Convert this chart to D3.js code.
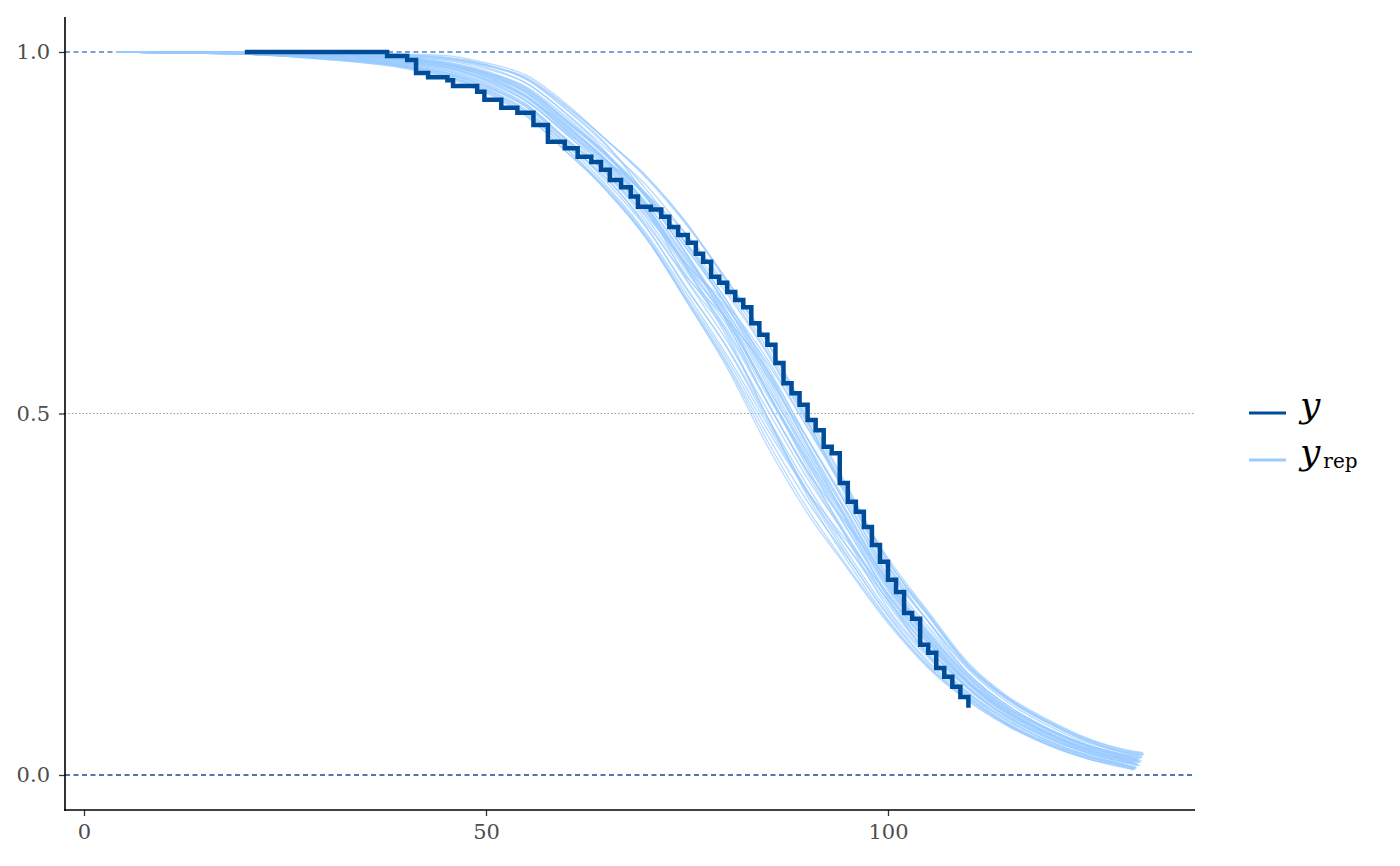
<!DOCTYPE html>
<html>
<head>
<meta charset="utf-8">
<script src="https://cdn.jsdelivr.net/npm/d3@7/dist/d3.min.js"></script>
<style>
  html, body { margin: 0; padding: 0; background: #fff; }
  svg { display: block; }
</style>
</head>
<body>
<svg id="chart" width="1400" height="866"></svg>
<script>
// ---------------- data ----------------
const xTicks = [0, 50, 100];
const yTicks = [0, 0.5, 1];
const yTickLabels = ["0.0", "0.5", "1.0"];

// observed Kaplan-Meier curve (time, survival)
const obsTime = [20, 37.7, 40.2, 41.3, 42.8, 45.2, 45.9, 48.9, 49.8, 51.9,
  53.9, 55.9, 57.7, 59.8, 61.4, 63.1, 64.3, 65.4, 66.8, 68.0,
  68.9, 70.5, 71.8, 72.8, 73.9, 75.1, 76.1,
  77, 78, 79, 80, 81, 82, 83, 84, 85, 86,
  87, 88, 89, 90, 91, 92, 93, 94, 95, 96,
  97, 98, 99, 100, 101, 102, 103, 104, 105, 106,
  107, 108, 109, 110];
const obsSurv = [1.0, 0.9945, 0.989, 0.971, 0.965, 0.961, 0.953, 0.945, 0.934, 0.923,
  0.916, 0.899, 0.876, 0.867, 0.855, 0.848, 0.837, 0.823, 0.813, 0.800,
  0.786, 0.782, 0.772, 0.758, 0.747, 0.736, 0.721,
  0.710, 0.689, 0.681, 0.668, 0.657, 0.647, 0.625, 0.609, 0.595, 0.570,
  0.542, 0.528, 0.512, 0.491, 0.477, 0.454, 0.445, 0.404, 0.378, 0.364,
  0.343, 0.318, 0.295, 0.270, 0.253, 0.224, 0.216, 0.180, 0.169, 0.148,
  0.136, 0.122, 0.108, 0.093];

// replicated curves, read at these times
const repTimes = [4, 20, 30, 40, 45, 50, 55, 60, 65, 70, 75, 80, 85, 90, 95, 100, 105, 110, 115, 120, 125, 130];
const repSurv = [
  [1, 1.0, 1.0, .997, .995, .985, .968, .928, .878, .827, .763, .680, .598, .495, .396, .296, .224, .152, .106, .074, .049, .033],
  [1, .997, .990, .977, .964, .943, .911, .862, .810, .743, .657, .570, .470, .378, .300, .222, .157, .110, .071, .045, .025, .011],
  [1, .998, .995, .988, .981, .966, .938, .893, .847, .783, .706, .630, .535, .445, .352, .260, .190, .130, .088, .056, .036, .022],
  [1, .999, .997, .992, .986, .974, .950, .905, .858, .798, .720, .625, .515, .420, .330, .240, .170, .118, .078, .050, .030, .016],
  [1, .998, .992, .982, .972, .955, .927, .880, .835, .777, .706, .650, .575, .480, .385, .290, .220, .150, .105, .072, .047, .031],
  [1, 1.0, .999, .996, .993, .983, .962, .920, .870, .809, .733, .648, .550, .450, .360, .265, .195, .135, .092, .062, .040, .025],
  [1, .997, .991, .979, .967, .948, .917, .866, .812, .745, .660, .575, .478, .392, .322, .250, .182, .127, .085, .058, .034, .020],
  [1, 1.0, .998, .995, .992, .982, .965, .925, .878, .825, .760, .684, .600, .490, .390, .290, .212, .140, .095, .063, .041, .027],
  [1, .998, .994, .985, .978, .961, .933, .886, .840, .777, .696, .622, .525, .432, .340, .250, .180, .125, .083, .053, .032, .018],
  [1, .998, .996, .989, .983, .969, .943, .897, .850, .785, .699, .605, .495, .385, .295, .215, .150, .103, .068, .041, .022, .009],
  [1, .998, .993, .983, .974, .956, .928, .879, .830, .765, .683, .600, .505, .410, .328, .247, .175, .120, .080, .052, .030, .016],
  [1, .999, .997, .993, .988, .977, .957, .915, .866, .815, .746, .670, .585, .488, .392, .300, .226, .155, .108, .076, .050, .034],
  [1, .997, .991, .980, .969, .950, .920, .872, .824, .761, .688, .630, .560, .465, .370, .270, .185, .120, .080, .050, .030, .016],
  [1, .998, .995, .988, .982, .967, .940, .895, .850, .791, .713, .640, .545, .445, .355, .263, .193, .133, .090, .060, .038, .024],
  [1, .999, .996, .990, .984, .971, .946, .902, .857, .797, .720, .635, .530, .435, .345, .255, .185, .127, .086, .056, .034, .020],
  [1, .997, .990, .978, .966, .945, .913, .862, .808, .741, .654, .563, .455, .362, .285, .210, .148, .102, .067, .041, .022, .009],
  [1, 1.0, .998, .994, .990, .979, .957, .914, .860, .785, .685, .612, .515, .420, .345, .270, .200, .138, .095, .064, .041, .027],
  [1, .998, .994, .984, .976, .960, .932, .888, .850, .803, .747, .675, .590, .490, .380, .275, .190, .128, .087, .057, .035, .021],
  [1, .997, .992, .981, .971, .952, .924, .874, .826, .757, .671, .592, .495, .400, .315, .236, .167, .114, .076, .047, .027, .013],
  [1, .999, .996, .991, .985, .972, .948, .905, .860, .803, .733, .655, .565, .465, .370, .275, .205, .140, .095, .064, .041, .026],
  [1, 1.0, 1.0, .987, .979, .963, .936, .890, .843, .779, .701, .628, .530, .437, .350, .258, .190, .130, .090, .058, .037, .023],
  [1, .998, .992, .981, .971, .953, .926, .878, .832, .773, .706, .645, .570, .480, .390, .295, .222, .152, .106, .074, .048, .032],
  [1, .999, .996, .989, .983, .970, .944, .899, .851, .787, .701, .610, .495, .390, .302, .220, .154, .107, .070, .044, .024, .011],
  [1, .998, .995, .987, .980, .965, .939, .892, .845, .785, .710, .635, .540, .440, .350, .260, .188, .128, .087, .058, .035, .021],
  [1, .999, .996, .989, .983, .969, .947, .904, .855, .799, .727, .650, .558, .458, .363, .268, .197, .136, .092, .062, .039, .024],
  [1, .997, .991, .979, .968, .948, .918, .871, .815, .748, .665, .580, .485, .390, .315, .242, .176, .122, .083, .054, .033, .018],
  [1, 1.0, .999, .995, .992, .982, .963, .922, .872, .800, .718, .630, .530, .425, .325, .230, .165, .113, .074, .047, .026, .012],
  [1, .998, .993, .984, .975, .958, .932, .887, .832, .770, .690, .616, .516, .416, .326, .242, .175, .120, .080, .052, .031, .017],
  [1, .998, .994, .985, .978, .962, .938, .897, .850, .800, .735, .665, .582, .485, .385, .286, .213, .146, .100, .068, .044, .029],
  [1, .998, .994, .986, .979, .963, .938, .891, .839, .781, .703, .627, .530, .430, .338, .250, .184, .126, .085, .056, .033, .019],
  [1, .999, .997, .991, .985, .972, .952, .910, .858, .803, .733, .655, .560, .455, .348, .245, .165, .108, .069, .042, .022, .009],
  [1, .997, .992, .981, .970, .952, .924, .877, .820, .756, .673, .590, .490, .393, .307, .226, .162, .112, .074, .047, .027, .013],
  [1, .999, .997, .993, .990, .981, .963, .925, .878, .828, .762, .684, .598, .500, .398, .296, .220, .150, .104, .072, .046, .030],
  [1, .998, .995, .988, .982, .967, .944, .900, .848, .790, .715, .640, .552, .465, .375, .282, .212, .148, .103, .071, .046, .030],
  [1, .998, .991, .979, .967, .946, .915, .867, .808, .742, .655, .567, .462, .368, .288, .213, .151, .105, .069, .043, .024, .011],
  [1, .999, .996, .990, .984, .971, .950, .907, .857, .801, .728, .647, .555, .455, .360, .265, .196, .135, .092, .062, .039, .024]
];
const repEndTime = [131.4, 130.8, 131.6, 130.9, 131.8, 131.2, 130.6, 131.5, 131.0, 130.5,
  131.3, 131.7, 131.1, 130.8, 131.4, 130.7, 131.6, 131.2, 130.9, 131.5, 131.0, 131.8, 130.6, 131.3,
  131.1, 130.7, 130.9, 131.2, 131.6, 131.0, 130.5, 130.8, 131.7, 131.5, 130.6, 131.3];
const repEndSurv = [.030, .008, .019, .013, .028, .022, .017, .024, .015, .007,
  .013, .031, .014, .021, .017, .008, .024, .018, .010, .023, .020, .030, .009, .018,
  .021, .015, .010, .014, .026, .016, .007, .011, .028, .027, .009, .021];

const legendLabels = ["y", "yrep"];

// ---------------- chart ----------------
const svg = d3.select("#chart");
const x = d3.scaleLinear().domain([0, 100]).range([84, 888]);
const y = d3.scaleLinear().domain([0, 1]).range([775, 52]);
const padL = 65, padR = 1195, padT = 17, padB = 810;

const fontTick = "'DejaVu Serif', serif";

// reference lines
svg.append("line").attr("x1", padL).attr("x2", padR)
  .attr("y1", y(1)).attr("y2", y(1))
  .attr("stroke", "#4a84c9").attr("stroke-width", 1.3).attr("stroke-dasharray", "5,3.5");
svg.append("line").attr("x1", padL).attr("x2", padR)
  .attr("y1", y(0.5)).attr("y2", y(0.5))
  .attr("stroke", "#9a9a9a").attr("stroke-width", 1).attr("stroke-dasharray", "1.5,2");
svg.append("line").attr("x1", padL).attr("x2", padR)
  .attr("y1", y(0)).attr("y2", y(0))
  .attr("stroke", "#104d94").attr("stroke-width", 1.3).attr("stroke-dasharray", "5,3.5");

// replicated curves
const repLine = d3.line().x(d => x(d[0])).y(d => y(d[1])).curve(d3.curveMonotoneX);
repSurv.forEach((vals, i) => {
  const pts = repTimes.map((t, j) => [t, vals[j]]);
  pts.push([repEndTime[i], repEndSurv[i]]);
  svg.append("path").datum(pts)
    .attr("d", repLine)
    .attr("fill", "none")
    .attr("stroke", "#99cbff")
    .attr("stroke-opacity", 0.7)
    .attr("stroke-width", 1.3);
});

// observed curve
const obsLine = d3.line().x(d => x(d[0])).y(d => y(d[1])).curve(d3.curveStepAfter);
svg.append("path").datum(obsTime.map((t, i) => [t, obsSurv[i]]))
  .attr("d", obsLine)
  .attr("fill", "none")
  .attr("stroke", "#004c99")
  .attr("stroke-width", 4.5);

// axes
const xAxis = d3.axisBottom(x).tickValues(xTicks).tickSize(6).tickPadding(8).tickFormat(d3.format("d"));
const gx = svg.append("g").attr("transform", `translate(0,${padB})`).call(xAxis);
gx.select(".domain").remove();
gx.selectAll(".tick line").attr("stroke", "#333").attr("stroke-width", 1.3);
gx.selectAll(".tick text").attr("fill", "#4d4d4d").attr("font-family", fontTick).attr("font-size", 21);

const yAxis = d3.axisLeft(y).tickValues(yTicks).tickSize(6).tickPadding(9)
  .tickFormat((d, i) => yTickLabels[i]);
const gy = svg.append("g").attr("transform", `translate(${padL},0)`).call(yAxis);
gy.select(".domain").remove();
gy.selectAll(".tick line").attr("stroke", "#333").attr("stroke-width", 1.3);
gy.selectAll(".tick text").attr("fill", "#4d4d4d").attr("font-family", fontTick).attr("font-size", 21);

svg.append("line").attr("x1", padL).attr("x2", padL).attr("y1", padT).attr("y2", padB + 1)
  .attr("stroke", "#000").attr("stroke-width", 1.6);
svg.append("line").attr("x1", padL - 0.8).attr("x2", padR).attr("y1", padB).attr("y2", padB)
  .attr("stroke", "#000").attr("stroke-width", 1.6);

// legend
const lg = svg.append("g");
lg.append("line").attr("x1", 1249).attr("x2", 1286).attr("y1", 413).attr("y2", 413)
  .attr("stroke", "#004c99").attr("stroke-width", 3);
lg.append("line").attr("x1", 1249).attr("x2", 1286).attr("y1", 460).attr("y2", 460)
  .attr("stroke", "#99cbff").attr("stroke-width", 3);
lg.append("text").attr("x", 1300).attr("y", 417).attr("font-family", fontTick)
  .attr("font-style", "italic").attr("font-size", 36).attr("fill", "#000").text(legendLabels[0]);
const t2 = lg.append("text").attr("x", 1300).attr("y", 464).attr("font-family", fontTick)
  .attr("font-size", 36).attr("fill", "#000");
t2.append("tspan").attr("font-style", "italic").text(legendLabels[1].slice(0, 1));
t2.append("tspan").attr("font-size", 20).attr("dx", 3).attr("dy", 4).text(legendLabels[1].slice(1));
</script>
</body>
</html>
